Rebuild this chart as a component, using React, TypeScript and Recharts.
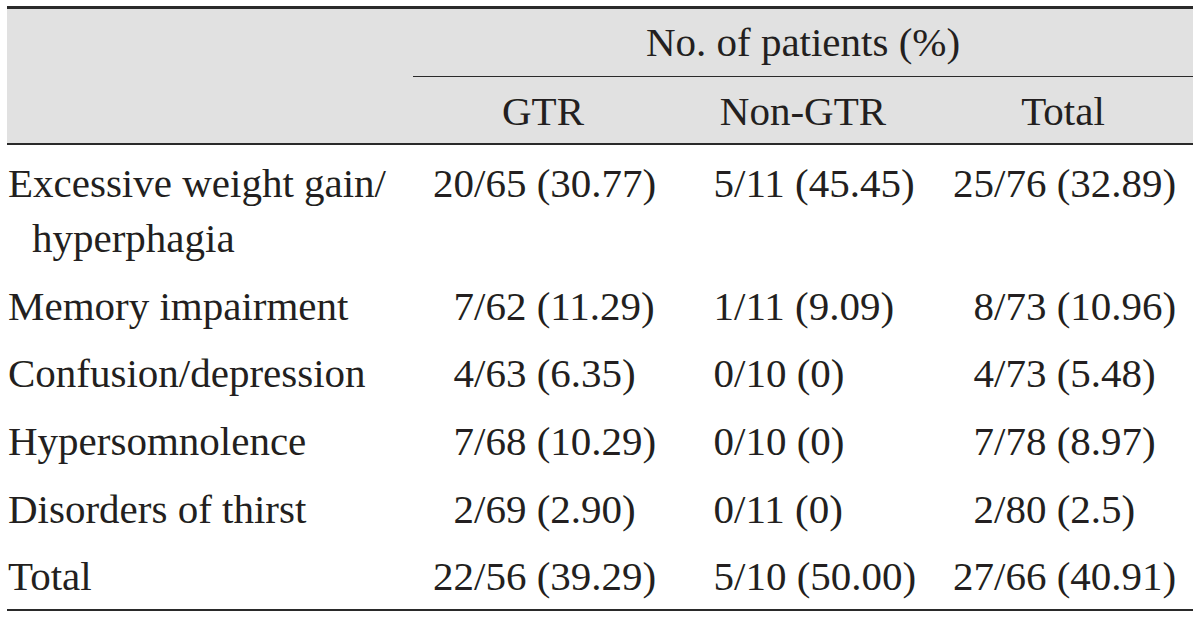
import React from "react";
import { ScatterChart, Scatter, XAxis, YAxis } from "recharts";

// table content
const columns = ["GTR", "Non-GTR", "Total"];
const rowLabels = [
  "Excessive weight gain/\nhyperphagia",
  "Memory impairment",
  "Confusion/depression",
  "Hypersomnolence",
  "Disorders of thirst",
  "Total",
];
const gtrValues = ["20/65 (30.77)", "7/62 (11.29)", "4/63 (6.35)", "7/68 (10.29)", "2/69 (2.90)", "22/56 (39.29)"];
const nonGtrValues = ["5/11 (45.45)", "1/11 (9.09)", "0/10 (0)", "0/10 (0)", "0/11 (0)", "5/10 (50.00)"];
const totalValues = ["25/76 (32.89)", "8/73 (10.96)", "4/73 (5.48)", "7/78 (8.97)", "2/80 (2.5)", "27/66 (40.91)"];
const spanHeader = "No. of patients (%)";

const FONT = '"Liberation Serif", "Times New Roman", serif';
const FS = 41;
const INK = "#231f20";
const RULE = "#2a2a2a";
const LINE_H = 55;
const ROW_GAP = 0.23; // extra space between rows, in lines

// each row starts after the lines of the rows above it
const rowStarts: number[] = [];
rowLabels.reduce((acc, label, i) => {
  rowStarts.push(acc + i * ROW_GAP);
  return acc + label.split("\n").length;
}, 0);

const makeSeries = (col: string, values: string[]) =>
  values.map((text, i) => ({ col, line: rowStarts[i], text }));

const seriesData = [
  makeSeries(columns[0], gtrValues),
  makeSeries(columns[1], nonGtrValues),
  makeSeries(columns[2], totalValues),
];

// cell text lined up on the slash
const CellText = (props: any) => {
  const { cx, cy, payload } = props;
  if (cx == null || cy == null) return null;
  const numerator = payload.text.split("/")[0];
  const x = cx - 69 - numerator.length * FS * 0.5;
  return (
    <text x={x} y={cy} fontFamily={FONT} fontSize={FS} fill={INK}>
      {payload.text}
    </text>
  );
};

const HeaderTick = (props: any) => {
  const { x, y, payload } = props;
  return (
    <text x={x} y={y - 19} textAnchor="middle" fontFamily={FONT} fontSize={FS} fill={INK}>
      {payload.value}
    </text>
  );
};

const RowTick = (props: any) => {
  const { y, payload } = props;
  const idx = rowStarts.findIndex((v) => Math.abs(v - payload.value) < 1e-6);
  if (idx < 0) return null;
  const lines = rowLabels[idx].split("\n");
  return (
    <text fontFamily={FONT} fontSize={FS} fill={INK}>
      {lines.map((ln, k) => (
        <tspan key={k} x={k === 0 ? 8 : 32} y={y + k * LINE_H}>
          {ln}
        </tspan>
      ))}
    </text>
  );
};

const SpanLabel = (props: any) => {
  const { viewBox } = props;
  if (!viewBox) return null;
  return (
    <text
      x={viewBox.x + viewBox.width / 2}
      y={viewBox.y + 56}
      textAnchor="middle"
      fontFamily={FONT}
      fontSize={FS}
      fill={INK}
    >
      {spanHeader}
    </text>
  );
};

const rule = (top: number, left: number, width: number, height: number): React.CSSProperties => ({
  position: "absolute",
  top,
  left,
  width,
  height,
  background: RULE,
});

export default function App() {
  return (
    <div style={{ position: "absolute", left: 0, top: 0, width: 1200, height: 620, background: "#fff" }}>
      <div style={{ position: "absolute", top: 8, left: 7, width: 1186, height: 136, background: "#e1e1e1" }} />
      <div style={{ position: "absolute", top: 0, left: 0 }}>
        <ScatterChart width={1200} height={620} margin={{ top: 0, right: 7, bottom: 10, left: 0 }}>
          <XAxis
            type="category"
            dataKey="col"
            orientation="top"
            allowDuplicatedCategory={false}
            height={144}
            axisLine={false}
            tickLine={false}
            tickSize={0}
            tickMargin={0}
            tick={<HeaderTick />}
            label={{ content: <SpanLabel /> }}
          />
          <YAxis
            type="number"
            dataKey="line"
            domain={[-0.964, 7.509]}
            allowDataOverflow
            reversed
            width={413}
            ticks={rowStarts}
            interval={0}
            axisLine={false}
            tickLine={false}
            tickSize={0}
            tickMargin={0}
            tick={<RowTick />}
          />
          {seriesData.map((data, i) => (
            <Scatter key={columns[i]} data={data} shape={<CellText />} isAnimationActive={false} />
          ))}
        </ScatterChart>
      </div>
      <div style={rule(6, 7, 1186, 2.5)} />
      <div style={rule(75.5, 413, 780, 1.5)} />
      <div style={rule(143, 7, 1186, 2)} />
      <div style={rule(609, 7, 1186, 2)} />
    </div>
  );
}
